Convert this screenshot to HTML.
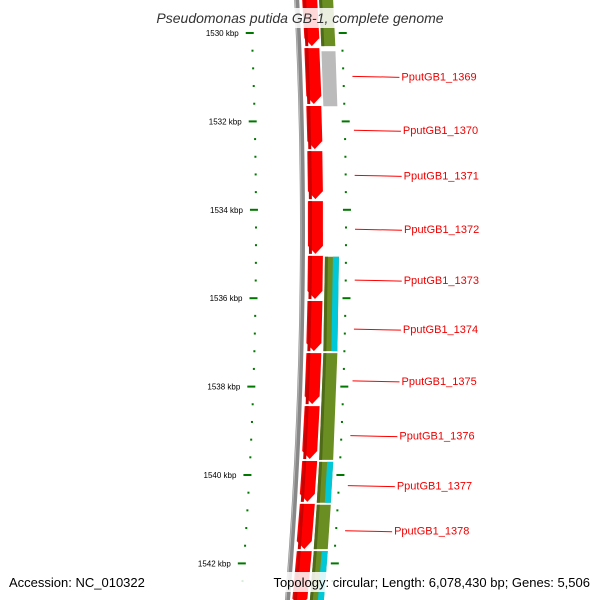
<!DOCTYPE html>
<html><head><meta charset="utf-8"><style>
body{margin:0;background:#fff}
svg{display:block;font-family:"Liberation Sans",sans-serif}
</style></head><body>
<svg id="map" width="600" height="600" viewBox="0 0 600 600">
<g id="layer"></g>
<rect x="140" y="8" width="320" height="20" fill="#fff" opacity="0.85"/>
<text x="300" y="23" text-anchor="middle" font-size="14" font-style="italic" fill="#333">Pseudomonas putida GB-1, complete genome</text>
<rect x="0" y="572" width="600" height="20" fill="#fff" opacity="0.85"/>
<text x="9" y="587" font-size="13" fill="#000">Accession: NC_010322</text>
<text x="590" y="587" text-anchor="end" font-size="13" fill="#000">Topology: circular; Length: 6,078,430 bp; Genes: 5,506</text>
</svg>
<script>
const majorTicks=[1530,1532,1534,1536,1538,1540,1542];
const majorLabels=["1530 kbp","1532 kbp","1534 kbp","1536 kbp","1538 kbp","1540 kbp","1542 kbp"];
const redGenes=[[1529,1530.32],[1530.32,1531.63],[1531.63,1532.65],[1532.65,1533.78],[1533.78,1535.02],[1535.02,1536.04],[1536.04,1537.22],[1537.22,1538.42],[1538.42,1539.66],[1539.66,1540.63],[1540.63,1541.70],[1541.70,1543]];
const greenGenes=[[1529,1530.32],[1535.04,1537.22],[1537.22,1539.68],[1539.68,1540.65],[1540.65,1541.70],[1541.70,1543]];
const grayGenes=[[1530.39,1531.68]];
const cyanGenes=[[1535.04,1537.22],[1539.68,1540.65],[1541.70,1543]];
const geneLabels=["PputGB1_1369","PputGB1_1370","PputGB1_1371","PputGB1_1372","PputGB1_1373","PputGB1_1374","PputGB1_1375","PputGB1_1376","PputGB1_1377","PputGB1_1378"];
const labelPos=[1530.98,1532.20,1533.22,1534.44,1535.59,1536.70,1537.87,1539.11,1540.24,1541.26];
const NS="http://www.w3.org/2000/svg";
const L=document.getElementById('layer');
const y=k=>33+(k-1530)*44.2;
const off=yy=>-((yy-230)*(yy-230))/9126;
function el(t,a){const e=document.createElementNS(NS,t);for(const k in a)e.setAttribute(k,a[k]);L.appendChild(e);return e;}
function band(k1,k2,x1,x2,fill,arrow,name){
  let y1=Math.max(y(k1),-10),y2=Math.min(y(k2),610);
  const o1=off(y1),o2=off(y2),a=arrow?8:0,m=(x1+x2)/2;
  const pts=[[x1+o1,y1+1],[x2+o1,y1+1],[x2+o2,y2-a-1],[m+o2,y2-1],[x1+o2,y2-a-1]];
  const p=el('polygon',{points:pts.map(p=>p.join(',')).join(' '),fill:fill});
  
  
  return p;
}
// backbone
{const pts1=[],pts2=[];for(let yy=-5;yy<=605;yy+=10){pts1.push([300+off(yy),yy]);pts2.push([305+off(yy),yy]);}
const p=el('polygon',{points:pts1.concat(pts2.reverse()).map(p=>p.join(',')).join(' '),fill:'#888'});


const q=el('polyline',{points:pts1.map(p=>(p[0]+1)+','+p[1]).join(' '),fill:'none',stroke:'#bbb','stroke-width':1});

}
redGenes.forEach((g,i)=>{band(g[0],g[1],308,323,'#f00',true,'forward-gene-'+i);band(g[0],g[1],309,312,'#c00',false,'forward-gene-shade-'+i);});
greenGenes.forEach((g,i)=>{band(g[0],g[1],325,339,'#6b8e23',false,'cds-block-'+i);band(g[0],g[1],325,328,'#4f6a18',false,'cds-shade-'+i);});
grayGenes.forEach((g,i)=>band(g[0],g[1],325,339,'#bbb',false,'other-block-'+i));
cyanGenes.forEach((g,i)=>band(g[0],g[1],333,339,'#00c8d8',false,'cyan-block-'+i));
// ticks
for(let k=1530;k<=1543;k+=0.4){
  const yy=y(k);if(yy<25||yy>595)continue;
  const major=Math.abs(k-Math.round(k/2)*2)<0.01;
  const o=off(yy);
  const t1=el('rect',major?{x:250+o,y:yy-1,width:8,height:2,fill:'#070'}:{x:255+o,y:yy-1,width:2,height:2,fill:'#070'});
  
  
  const t2=el('rect',major?{x:343+o,y:yy-1,width:8,height:2,fill:'#070'}:{x:345+o,y:yy-1,width:2,height:2,fill:'#070'});
  
  
}
majorTicks.forEach((k,i)=>{const yy=y(k);
  const t=el('text',{x:243+off(yy),y:yy+3,'text-anchor':'end','font-size':8,fill:'#000'});t.textContent=majorLabels[i];
  
  });
geneLabels.forEach((s,i)=>{const yy=y(labelPos[i]);const o=off(yy);
  const l=el('line',{x1:355+o,y1:yy,x2:402+o,y2:yy+1,stroke:'#f00','stroke-width':1});
  
  
  const t=el('text',{x:404+o,y:yy+4,'font-size':11,fill:'#e00','font-family':'Liberation Sans Narrow, Liberation Sans, sans-serif'});t.textContent=s;
  
  });
</script>
</body></html>
